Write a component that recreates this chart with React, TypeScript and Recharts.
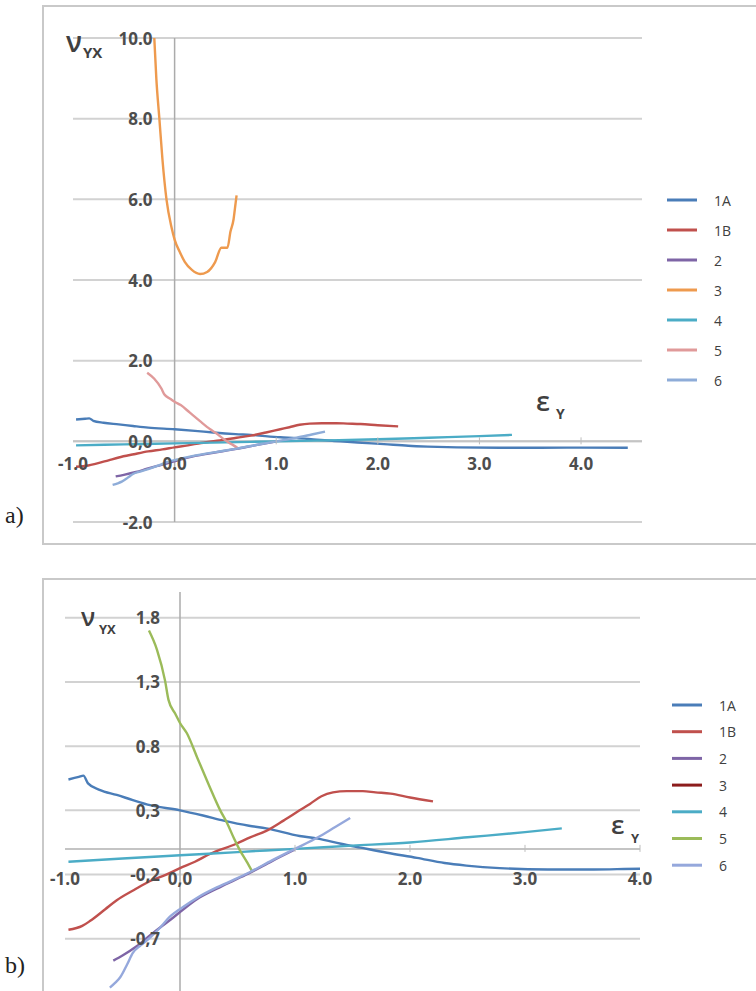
import React from "react";
import { LineChart, Line, XAxis, YAxis, ReferenceLine, ReferenceDot } from "recharts";

// [εY, νYX] pairs
const s1A = [
  [-0.97, 0.54], [-0.88, 0.56], [-0.84, 0.57], [-0.8, 0.51], [-0.7, 0.46], [-0.55, 0.42],
  [-0.41, 0.38], [-0.26, 0.34], [0, 0.3], [0.2, 0.26], [0.38, 0.22], [0.6, 0.18],
  [0.75, 0.16], [1.04, 0.1], [1.2, 0.08], [1.4, 0.04], [1.57, 0.01], [1.8, -0.03],
  [2.06, -0.07], [2.3, -0.11], [2.49, -0.13], [2.78, -0.15], [3.2, -0.16], [3.6, -0.16],
  [4.0, -0.155], [4.46, -0.16],
];
const s1B = [
  [-0.97, -0.63], [-0.85, -0.6], [-0.78, -0.56], [-0.65, -0.47], [-0.55, -0.4], [-0.4, -0.32],
  [-0.26, -0.25], [-0.12, -0.2], [0, -0.15], [0.13, -0.1], [0.26, -0.04], [0.49, 0.04],
  [0.61, 0.09], [0.75, 0.14], [0.9, 0.22], [1.04, 0.3], [1.13, 0.35], [1.23, 0.41],
  [1.33, 0.44], [1.45, 0.45], [1.59, 0.45], [1.7, 0.44], [1.83, 0.43], [2.0, 0.4], [2.2, 0.37],
];
const s2 = [
  [-0.58, -0.87], [-0.5, -0.83], [-0.38, -0.76], [-0.27, -0.68], [-0.17, -0.61], [-0.08, -0.55],
  [0.03, -0.47], [0.15, -0.39], [0.32, -0.31], [0.47, -0.245], [0.61, -0.185], [0.8, -0.095],
  [1.0, -0.005],
];
const s3 = [
  [-0.2, 10.0], [-0.18, 9.0], [-0.15, 8.0], [-0.12, 7.0], [-0.08, 6.0], [-0.03, 5.3], [0, 5.0],
  [0.05, 4.7], [0.1, 4.45], [0.17, 4.25], [0.25, 4.15], [0.32, 4.2], [0.4, 4.45], [0.46, 4.8],
  [0.52, 4.8], [0.55, 5.2], [0.58, 5.5], [0.6, 5.9], [0.61, 6.1],
];
const s4 = [
  [-0.97, -0.1], [-0.5, -0.075], [0, -0.05], [0.5, -0.025], [1.0, 0.0], [1.5, 0.025],
  [2.0, 0.05], [2.5, 0.09], [3.0, 0.13], [3.32, 0.16],
];
const s5 = [
  [-0.27, 1.7], [-0.2, 1.55], [-0.13, 1.31], [-0.1, 1.16], [-0.04, 1.05], [0, 0.98],
  [0.06, 0.9], [0.15, 0.71], [0.25, 0.5], [0.35, 0.3], [0.41, 0.2], [0.47, 0.08],
  [0.52, -0.01], [0.58, -0.1], [0.63, -0.18],
];
const s6 = [
  [-0.61, -1.08], [-0.56, -1.04], [-0.52, -1.0], [-0.46, -0.9], [-0.41, -0.81], [-0.34, -0.75],
  [-0.26, -0.69], [-0.17, -0.61], [-0.09, -0.53], [0.03, -0.45], [0.15, -0.38], [0.32, -0.3],
  [0.47, -0.24], [0.61, -0.18], [0.8, -0.09], [1.0, 0.0], [1.2, 0.09], [1.35, 0.17], [1.48, 0.24],
];

const seriesNames = ["1A", "1B", "2", "3", "4", "5", "6"];
const colorsA = ["#4A7DB8", "#C0504D", "#7E65A6", "#EE9A4E", "#4BACC6", "#E09A9A", "#8EACD8"];
const colorsB = ["#4A7DB8", "#C0504D", "#7E65A6", "#8C1C1C", "#4BACC6", "#9BBB59", "#95A8DC"];

const yTicksA = [10, 8, 6, 4, 2, 0, -2];
const yLabelsA = ["10.0", "8.0", "6.0", "4.0", "2.0", "0,0", "-2.0"];
const xTicksA = [-1, 0, 1, 2, 3, 4];
const xLabelsA = ["-1.0", "0.0", "1.0", "2.0", "3.0", "4.0"];

const yTicksB = [1.8, 1.3, 0.8, 0.3, -0.2, -0.7];
const yLabelsB = ["1.8", "1,3", "0.8", "0,3", "-0,2", "-0,7"];
const xTicksB = [-1, 0, 1, 2, 3, 4];
const xLabelsB = ["-1.0", "0,0", "1.0", "2.0", "3.0", "4.0"];

const toPts = (arr: number[][]) => arr.map(([x, y]) => ({ x, y }));
const allData = [s1A, s1B, s2, s3, s4, s5, s6];

const tickFont = { fontFamily: "'Open Sans', sans-serif", fontSize: 17, fontWeight: 700, fill: "#4D4D4D" };

type PanelProps = {
  top: number;
  height: number;
  margin: { top: number; right: number; bottom: number; left: number };
  xDomain: [number, number];
  yDomain: [number, number];
  yTicks: number[];
  yLabels: string[];
  xTicks: number[];
  xLabels: string[];
  yGap: number;
  xGap: number;
  colors: string[];
  skip: string[];
};

function Panel(p: PanelProps) {
  return (
    <div style={{ position: "absolute", left: 0, top: p.top, width: 756, height: p.height }}>
      <LineChart width={756} height={p.height} margin={p.margin}>
        <XAxis type="number" dataKey="x" domain={p.xDomain} hide allowDataOverflow />
        <YAxis type="number" dataKey="y" domain={p.yDomain} hide allowDataOverflow />
        {p.yTicks.map((t) => (
          <ReferenceLine key={"g" + t} y={t} stroke="#D2D2D2" strokeWidth={2} />
        ))}
        <ReferenceLine y={0} stroke="#C4C4C4" strokeWidth={2} />
        <ReferenceLine x={0} stroke="#ABABAB" strokeWidth={1.5} />
        {p.xTicks
          .filter((t) => t !== 0 && t !== -1)
          .map((t) => (
            <ReferenceDot
              key={"m" + t}
              x={t}
              y={0}
              r={1}
              shape={(d: any) => (
                <line x1={d.cx} x2={d.cx} y1={d.cy - 4} y2={d.cy + 3} stroke="#BDBDBD" strokeWidth={1} />
              )}
            />
          ))}
        {p.yTicks.map((t, i) => (
          <ReferenceDot
            key={"yl" + t}
            x={0}
            y={t}
            r={1}
            shape={(d: any) => (
              <text x={d.cx - p.yGap} y={d.cy} textAnchor="end" dominantBaseline="central" {...tickFont}>
                {p.yLabels[i]}
              </text>
            )}
          />
        ))}
        {p.xTicks.map((t, i) => (
          <ReferenceDot
            key={"xl" + t}
            x={t}
            y={0}
            r={1}
            shape={(d: any) => (
              <text x={d.cx} y={d.cy + p.xGap} textAnchor="middle" dominantBaseline="central" {...tickFont}>
                {p.xLabels[i]}
              </text>
            )}
          />
        ))}
        {seriesNames.map((name, i) =>
          p.skip.includes(name) ? null : (
            <Line
              key={name}
              name={name}
              data={toPts(allData[i])}
              dataKey="y"
              type="monotone"
              stroke={p.colors[i]}
              strokeWidth={2.4}
              dot={false}
              activeDot={false}
              isAnimationActive={false}
            />
          )
        )}
      </LineChart>
    </div>
  );
}

function LegendBox({ left, top, gap, colors }: { left: number; top: number; gap: number; colors: string[] }) {
  return (
    <svg style={{ position: "absolute", left, top, overflow: "visible" }} width={80} height={gap * 7}>
      {seriesNames.map((name, i) => (
        <g key={name}>
          <line x1={0} x2={30} y1={i * gap} y2={i * gap} stroke={colors[i]} strokeWidth={3} />
          <text
            x={47}
            y={i * gap}
            dominantBaseline="central"
            fontFamily="'Open Sans', sans-serif"
            fontSize={14}
            fill="#404040"
          >
            {name}
          </text>
        </g>
      ))}
    </svg>
  );
}

const titleFont = { fontFamily: "'Open Sans', 'DejaVu Sans', sans-serif", fill: "#404040" };

export default function App() {
  return (
    <div
      style={{
        position: "absolute",
        left: 0,
        top: 0,
        width: 756,
        height: 991,
        overflow: "hidden",
        background: "#fff",
      }}
    >
      <div style={{ position: "absolute", left: 42, top: 5, width: 740, height: 536, border: "2px solid #C9C9C9" }} />
      <div style={{ position: "absolute", left: 42, top: 578, width: 740, height: 460, border: "2px solid #C9C9C9" }} />

      <Panel
        top={0}
        height={545}
        margin={{ top: 38, right: 114, bottom: 23, left: 73 }}
        xDomain={[-1, 4.6]}
        yDomain={[-2, 10]}
        yTicks={yTicksA}
        yLabels={yLabelsA}
        xTicks={xTicksA}
        xLabels={xLabelsA}
        yGap={22}
        xGap={22}
        colors={colorsA}
        skip={[]}
      />
      <Panel
        top={560}
        height={460}
        margin={{ top: 32, right: 116, bottom: 17, left: 65 }}
        xDomain={[-1, 4]}
        yDomain={[-1.2, 2]}
        yTicks={yTicksB}
        yLabels={yLabelsB}
        xTicks={xTicksB}
        xLabels={xLabelsB}
        yGap={20}
        xGap={30}
        colors={colorsB}
        skip={["3"]}
      />

      <LegendBox left={667} top={200} gap={30} colors={colorsA} />
      <LegendBox left={672} top={705} gap={26.7} colors={colorsB} />

      <svg style={{ position: "absolute", left: 0, top: 0 }} width={756} height={991}>
        <text x={66} y={52} fontSize={28} fontWeight={600} {...titleFont}>ν</text>
        <text x={83} y={58} fontSize={15} fontWeight={700} {...titleFont}>YX</text>
        <text x={536} y={411} fontSize={27} fontWeight={600} {...titleFont}>ε</text>
        <text x={556} y={419} fontSize={14} fontWeight={700} {...titleFont}>Y</text>

        <text x={81} y={626} fontSize={25} fontWeight={600} {...titleFont}>ν</text>
        <text x={99} y={634} fontSize={13} fontWeight={700} {...titleFont}>YX</text>
        <text x={611} y={834} fontSize={26} fontWeight={600} {...titleFont}>ε</text>
        <text x={631} y={843} fontSize={13} fontWeight={700} {...titleFont}>Y</text>

        <text x={5} y={523} fontSize={24} fontFamily="'Liberation Serif', serif" fill="#222">a)</text>
        <text x={5} y={973} fontSize={24} fontFamily="'Liberation Serif', serif" fill="#222">b)</text>
      </svg>
    </div>
  );
}
